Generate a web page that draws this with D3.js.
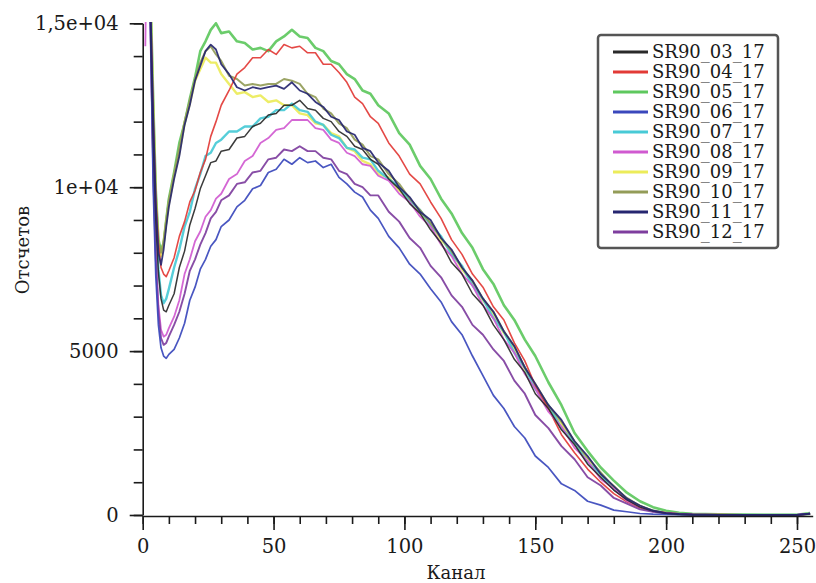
<!DOCTYPE html>
<html><head><meta charset="utf-8">
<script src="https://cdn.jsdelivr.net/npm/d3@7"></script>
<style>body{margin:0;background:#fff} svg{display:block}</style>
</head><body><svg id="c" width="816" height="583"></svg>
<script>
const channels = [1,2,3,4,5,6,7,8,9,10, 12,14,16,18,20,22,24,26,28,30, 33,36,39,42,45,48,51,54,57,60, 63,66,69,72,75,78,81,84,87,90, 94,98,102,106,110,114,118,122,126,130, 134,138,142,146,150,155,160,165,170,175, 180,185,190,195,200,205,210,220,230,240, 250,255];

const s03 = [22000,19000,15000,11500,9000,7400,6600,6250,6200,6400, 6750,7550,8050,8850,9350,9950,10350,10750,10800,11100, 11150,11500,11550,11850,11950,12200,12250,12500,12500,12650, 12400,12350,12100,12000,11700,11550,11250,11150,10850,10700, 10250,9950,9500,9200,8700,8300,7700,7350,6750,6400, 5800,5350,4750,4350,3700,3250,2600,2150,1550,1150, 760,460,240,120,50,25,10,5,3,2, 2,40];
const s04 = [22000,19500,15600,12100,9600,8250,7550,7350,7270,7450, 7850,8500,8950,9550,9900,10450,10850,11550,12000,12500, 12950,13450,13650,13950,13950,14200,14050,14350,14250,14300, 14100,14100,13750,13750,13500,13200,12750,12550,12150,11950, 11350,10950,10400,10100,9550,9050,8400,7950,7350,6950, 6350,5950,5250,4700,3950,3250,2450,1900,1400,1000, 650,400,220,120,70,40,20,10,5,5, 5,30];
const s05 = [22000,20000,15900,12700,9900,8400,8050,8300,9000,9650, 10450,11350,11950,12700,13350,14150,14450,14800,15000,14700, 14750,14450,14400,14200,14250,14150,14450,14600,14800,14600, 14550,14250,14150,13850,13750,13450,13300,12950,12850,12500, 12250,11650,11300,10650,10250,9650,9200,8600,8150,7500, 7050,6400,5950,5350,4850,4050,3350,2500,1950,1450, 1050,680,420,240,130,70,40,20,10,5, 5,60];
const s06 = [22000,19000,14800,10000,7300,5800,5100,4850,4780,4900, 5050,5400,5850,6550,6950,7500,7800,8200,8400,8800, 9000,9400,9600,9950,10050,10450,10550,10850,10700,10900, 10750,10800,10600,10700,10300,10100,9850,9700,9300,9050, 8500,8150,7650,7350,6900,6500,5900,5500,4850,4250, 3650,3250,2700,2350,1800,1450,950,750,420,300, 150,100,45,25,15,10,5,3,2,2, 2,40];
const s07 = [22000,19000,15200,11800,9200,7500,6700,6460,6600,6900, 7550,8100,8800,9250,9950,10400,10950,11050,11350,11450, 11700,11700,11850,11850,12100,12150,12350,12350,12550,12350, 12300,12000,11900,11600,11500,11200,11150,10900,10850,10500, 10250,10000,9600,9300,8850,8500,7950,7600,7000,6600, 6000,5600,4950,4500,3850,3350,2650,2200,1600,1250, 780,500,240,130,55,30,15,5,3,2, 2,40];
const s08 = [14300,20000,14500,10800,8000,6400,5650,5440,5500,5700, 6050,6550,7350,7800,8350,8650,9100,9300,9650,9800, 10250,10400,10800,10950,11350,11500,11750,11800,12050,12050, 12050,11800,11750,11450,11350,11050,10950,10700,10650,10350, 10200,9800,9550,9100,8800,8250,7900,7350,7000,6400, 6000,5350,4950,4300,3850,3150,2700,2050,1650,1100, 800,430,250,110,55,25,12,5,3,2, 2,40];
const s09 = [22000,19500,15600,12500,9700,8200,7900,8300,8950,9500, 10350,11050,11950,12550,13250,13600,13950,13800,13800,13450, 13150,12850,12900,12750,12800,12600,12650,12500,12500,12250, 12200,11950,11900,11650,11550,11200,11100,10800,10700,10400, 10300,9900,9650,9200,8900,8400,8050,7500,7100,6550, 6150,5550,5100,4450,3950,3250,2800,2150,1750,1200, 880,480,280,120,60,30,15,5,3,2, 2,40];
const s10 = [22000,19500,15600,12500,9800,8300,8000,8350,9000,9600, 10400,11200,12000,12650,13300,13800,14150,14300,14050,13850, 13400,13300,13100,13150,13100,13150,13150,13300,13250,13150, 12850,12750,12400,12250,11950,11800,11450,11300,10950,10850, 10400,10100,9650,9300,8900,8450,8050,7550,7150,6600, 6200,5600,5150,4500,4000,3350,2850,2250,1750,1300, 850,520,270,140,60,30,15,5,3,2, 2,40];
const s11 = [22000,19500,15400,12200,9500,8000,7630,8100,8800,9400, 10250,10950,11900,12500,13250,13700,14150,14350,14200,13750, 13450,13050,12950,13050,13000,13050,13100,13000,13200,12950, 12850,12600,12450,12150,12050,11700,11600,11200,11100,10750, 10500,10000,9700,9250,9000,8450,8100,7550,7150,6600, 6200,5600,5150,4500,4000,3350,2900,2250,1800,1250, 880,500,290,130,60,30,15,5,3,2, 2,40];
const s12 = [22000,19500,15000,10500,7800,6200,5400,5190,5250,5450, 5800,6200,6750,7450,7800,8250,8600,9050,9250,9600, 9750,10100,10150,10450,10500,10850,10900,11150,11100,11250, 11100,11100,10900,10850,10500,10400,10100,10000,9750,9750, 9250,8950,8450,8150,7600,7250,6700,6350,5800,5500, 5050,4700,4100,3700,3050,2650,2100,1700,1150,900, 520,350,170,100,45,20,10,5,3,2, 2,40];

const seriesNames = ["SR90_03_17","SR90_04_17","SR90_05_17","SR90_06_17","SR90_07_17","SR90_08_17","SR90_09_17","SR90_10_17","SR90_11_17","SR90_12_17"];
const seriesValues = [s03,s04,s05,s06,s07,s08,s09,s10,s11,s12];
const seriesColors = ["#2a2a2a","#e23a36","#5ec85e","#3a48bc","#48cad6","#d05ad0","#ecec5a","#939c58","#262670","#7e3e9e"];
const seriesWidths = [1.5,1.6,2.6,1.7,2.4,1.8,2.4,2.0,1.8,1.9];
const drawOrder = [2,6,4,7,1,5,9,3,0,8];

const yTickValues = [0,5000,10000,15000];
const yTickLabels = ["0","5000","1e+04","1,5e+04"];
const xTickValues = [0,50,100,150,200,250];
const xTickLabels = ["0","50","100","150","200","250"];
const xTitle = "Канал";
const yTitle = "Отсчетов";

const svg = d3.select("#c");
const FONT = "'DejaVu Serif', serif";
const x = d3.scaleLinear().domain([0,256]).range([142.7,812.7]);
const y = d3.scaleLinear().domain([0,15000]).range([515,23.3]);
const axisY = 516;

svg.append("defs").append("clipPath").attr("id","plot")
  .append("rect").attr("x",143).attr("y",22).attr("width",673).attr("height",496);

const gLines = svg.append("g").attr("clip-path","url(#plot)");
const line = d3.line().x((d,i)=>x(channels[i])).y(d=>y(d));
drawOrder.forEach(k=>{
  gLines.append("path").datum(seriesValues[k])
    .attr("d",line).attr("fill","none")
    .attr("stroke",seriesColors[k]).attr("stroke-width",seriesWidths[k])
    .attr("stroke-linejoin","round").attr("opacity",0.92);
});

// Y axis
const gy = svg.append("g").attr("transform",`translate(${x(0)},0)`);
gy.call(d3.axisLeft(y).tickValues(d3.range(0,15001,1000)).tickSize(9).tickSizeOuter(0).tickFormat(""));
const gy2 = svg.append("g").attr("transform",`translate(${x(0)},0)`);
gy2.call(d3.axisLeft(y).tickValues(yTickValues).tickSize(13).tickSizeOuter(0).tickPadding(11)
  .tickFormat((d,i)=>yTickLabels[i]));
gy2.select(".domain").remove();

// X axis
const gx = svg.append("g").attr("transform",`translate(0,${axisY})`);
gx.call(d3.axisBottom(x).tickValues(d3.range(0,251,10)).tickSize(8).tickSizeOuter(0).tickFormat(""));
const gx2 = svg.append("g").attr("transform",`translate(0,${axisY})`);
gx2.call(d3.axisBottom(x).tickValues(xTickValues).tickSize(14).tickSizeOuter(0).tickPadding(9)
  .tickFormat((d,i)=>xTickLabels[i]));
gx2.select(".domain").remove();

svg.selectAll(".domain, .tick line").attr("stroke","#1a1a1a").attr("stroke-width",1.6);
svg.selectAll(".tick text").attr("font-family",FONT).attr("font-size",19.5).attr("fill","#1a1a1a");

svg.append("text").attr("x",456).attr("y",579).attr("text-anchor","middle")
  .attr("font-family",FONT).attr("font-size",18).attr("fill","#1a1a1a").text(xTitle);
svg.append("text").attr("transform","translate(29,250) rotate(-90)").attr("text-anchor","middle")
  .attr("font-family",FONT).attr("font-size",18).attr("fill","#1a1a1a").text(yTitle);

// Legend
const lg = svg.append("g");
lg.append("rect").attr("x",598).attr("y",35).attr("width",180).attr("height",213)
  .attr("rx",3).attr("fill","#fff").attr("stroke","#555").attr("stroke-width",2.5);
seriesNames.forEach((n,i)=>{
  const by = 58 + i*20;
  lg.append("line").attr("x1",613).attr("x2",648).attr("y1",by-6).attr("y2",by-6)
    .attr("stroke",seriesColors[i]).attr("stroke-width",3);
  lg.append("text").attr("x",652).attr("y",by).attr("font-family",FONT).attr("font-size",18)
    .attr("fill","#1a1a1a").text(n);
});
</script></body></html>
